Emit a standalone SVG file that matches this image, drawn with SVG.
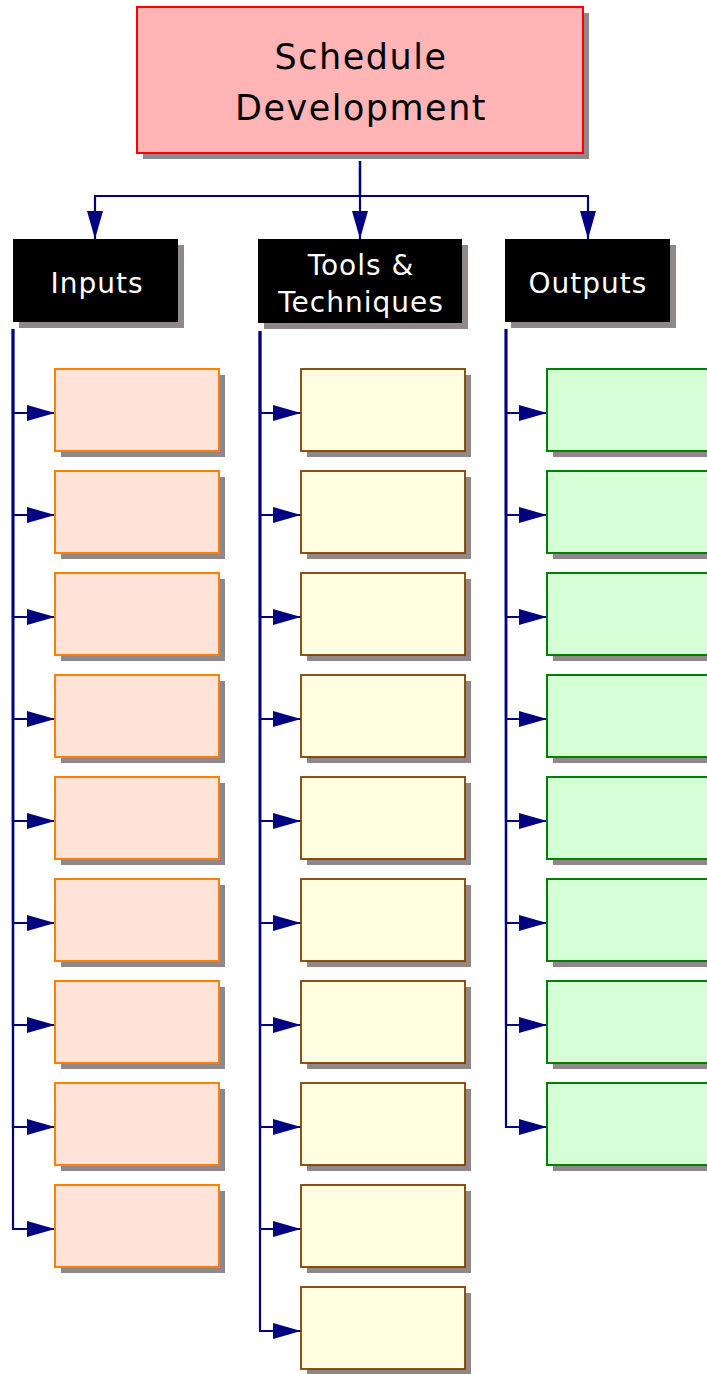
<svg xmlns="http://www.w3.org/2000/svg" width="707" height="1374" viewBox="0 0 707 1374">
<defs>
<marker id="ah" viewBox="0 0 28 16" refX="28" refY="8" markerWidth="28" markerHeight="16" markerUnits="userSpaceOnUse" orient="auto">
<path d="M0,0 L28,8 L0,16 z" fill="#000080"/>
</marker>
<style>
.sh{fill:#908888}
.conn{fill:none;stroke:#000080;stroke-width:2.2;marker-end:url(#ah)}
.hdr{fill:#000000}
.ht{fill:#ffffff;font-family:"DejaVu Sans",sans-serif;font-size:28px;letter-spacing:1px;text-anchor:middle}
.tt{fill:#000000;font-family:"DejaVu Sans",sans-serif;font-size:35px;letter-spacing:1.5px;text-anchor:middle}
.in{fill:#FFE3D8;stroke:#FF8000;stroke-width:2}
.tl{fill:#FFFEE0;stroke:#804000;stroke-width:1.8}
.out{fill:#D5FFD5;stroke:#008000;stroke-width:2}
</style>
</defs>
<rect width="707" height="1374" fill="#ffffff"/>

<g id="connectors">
<path class="conn" d="M360,161 V239"/>
<path class="conn" d="M360,161 V196 H95 V239"/>
<path class="conn" d="M360,161 V196 H588 V239"/>
<path class="conn" d="M13,329 V413 H55"/>
<path class="conn" d="M13,329 V515 H55"/>
<path class="conn" d="M13,329 V617 H55"/>
<path class="conn" d="M13,329 V719 H55"/>
<path class="conn" d="M13,329 V821 H55"/>
<path class="conn" d="M13,329 V923 H55"/>
<path class="conn" d="M13,329 V1025 H55"/>
<path class="conn" d="M13,329 V1127 H55"/>
<path class="conn" d="M13,329 V1229 H55"/>
<path class="conn" d="M260,331 V413 H301"/>
<path class="conn" d="M260,331 V515 H301"/>
<path class="conn" d="M260,331 V617 H301"/>
<path class="conn" d="M260,331 V719 H301"/>
<path class="conn" d="M260,331 V821 H301"/>
<path class="conn" d="M260,331 V923 H301"/>
<path class="conn" d="M260,331 V1025 H301"/>
<path class="conn" d="M260,331 V1127 H301"/>
<path class="conn" d="M260,331 V1229 H301"/>
<path class="conn" d="M260,331 V1331 H301"/>
<path class="conn" d="M506,329 V413 H547"/>
<path class="conn" d="M506,329 V515 H547"/>
<path class="conn" d="M506,329 V617 H547"/>
<path class="conn" d="M506,329 V719 H547"/>
<path class="conn" d="M506,329 V821 H547"/>
<path class="conn" d="M506,329 V923 H547"/>
<path class="conn" d="M506,329 V1025 H547"/>
<path class="conn" d="M506,329 V1127 H547"/>
</g>

<g id="title">
<rect class="sh" x="143" y="13" width="446" height="146"/>
<rect x="137" y="7" width="446" height="146" fill="#FFB5B5" stroke="#FF0000" stroke-width="2"/>
<text class="tt" x="361" y="69">Schedule</text>
<text class="tt" x="361" y="120">Development</text>
</g>

<g id="inputs">
<rect class="sh" x="19" y="245" width="165" height="83"/>
<rect class="hdr" x="13" y="239" width="165" height="83"/>
<text class="ht" x="97" y="293">Inputs</text>
</g>
<g id="tools">
<rect class="sh" x="264" y="245" width="204" height="84"/>
<rect class="hdr" x="258" y="239" width="204" height="84"/>
<text class="ht" x="361" y="275">Tools &amp;</text>
<text class="ht" x="361" y="312">Techniques</text>
</g>
<g id="outputs">
<rect class="sh" x="511" y="245" width="165" height="83"/>
<rect class="hdr" x="505" y="239" width="165" height="83"/>
<text class="ht" x="588" y="293">Outputs</text>
</g>

<g id="input-items">
<g id="in1"><rect class="sh" x="61" y="375" width="164" height="82"/><rect class="in" x="55" y="369" width="164" height="82"/></g>
<g id="in2"><rect class="sh" x="61" y="477" width="164" height="82"/><rect class="in" x="55" y="471" width="164" height="82"/></g>
<g id="in3"><rect class="sh" x="61" y="579" width="164" height="82"/><rect class="in" x="55" y="573" width="164" height="82"/></g>
<g id="in4"><rect class="sh" x="61" y="681" width="164" height="82"/><rect class="in" x="55" y="675" width="164" height="82"/></g>
<g id="in5"><rect class="sh" x="61" y="783" width="164" height="82"/><rect class="in" x="55" y="777" width="164" height="82"/></g>
<g id="in6"><rect class="sh" x="61" y="885" width="164" height="82"/><rect class="in" x="55" y="879" width="164" height="82"/></g>
<g id="in7"><rect class="sh" x="61" y="987" width="164" height="82"/><rect class="in" x="55" y="981" width="164" height="82"/></g>
<g id="in8"><rect class="sh" x="61" y="1089" width="164" height="82"/><rect class="in" x="55" y="1083" width="164" height="82"/></g>
<g id="in9"><rect class="sh" x="61" y="1191" width="164" height="82"/><rect class="in" x="55" y="1185" width="164" height="82"/></g>
</g>

<g id="tool-items">
<g id="tl1"><rect class="sh" x="307" y="375" width="164" height="82"/><rect class="tl" x="301" y="369" width="164" height="82"/></g>
<g id="tl2"><rect class="sh" x="307" y="477" width="164" height="82"/><rect class="tl" x="301" y="471" width="164" height="82"/></g>
<g id="tl3"><rect class="sh" x="307" y="579" width="164" height="82"/><rect class="tl" x="301" y="573" width="164" height="82"/></g>
<g id="tl4"><rect class="sh" x="307" y="681" width="164" height="82"/><rect class="tl" x="301" y="675" width="164" height="82"/></g>
<g id="tl5"><rect class="sh" x="307" y="783" width="164" height="82"/><rect class="tl" x="301" y="777" width="164" height="82"/></g>
<g id="tl6"><rect class="sh" x="307" y="885" width="164" height="82"/><rect class="tl" x="301" y="879" width="164" height="82"/></g>
<g id="tl7"><rect class="sh" x="307" y="987" width="164" height="82"/><rect class="tl" x="301" y="981" width="164" height="82"/></g>
<g id="tl8"><rect class="sh" x="307" y="1089" width="164" height="82"/><rect class="tl" x="301" y="1083" width="164" height="82"/></g>
<g id="tl9"><rect class="sh" x="307" y="1191" width="164" height="82"/><rect class="tl" x="301" y="1185" width="164" height="82"/></g>
<g id="tl10"><rect class="sh" x="307" y="1293" width="164" height="82"/><rect class="tl" x="301" y="1287" width="164" height="82"/></g>
</g>

<g id="output-items">
<g id="out1"><rect class="sh" x="553" y="375" width="164" height="82"/><rect class="out" x="547" y="369" width="164" height="82"/></g>
<g id="out2"><rect class="sh" x="553" y="477" width="164" height="82"/><rect class="out" x="547" y="471" width="164" height="82"/></g>
<g id="out3"><rect class="sh" x="553" y="579" width="164" height="82"/><rect class="out" x="547" y="573" width="164" height="82"/></g>
<g id="out4"><rect class="sh" x="553" y="681" width="164" height="82"/><rect class="out" x="547" y="675" width="164" height="82"/></g>
<g id="out5"><rect class="sh" x="553" y="783" width="164" height="82"/><rect class="out" x="547" y="777" width="164" height="82"/></g>
<g id="out6"><rect class="sh" x="553" y="885" width="164" height="82"/><rect class="out" x="547" y="879" width="164" height="82"/></g>
<g id="out7"><rect class="sh" x="553" y="987" width="164" height="82"/><rect class="out" x="547" y="981" width="164" height="82"/></g>
<g id="out8"><rect class="sh" x="553" y="1089" width="164" height="82"/><rect class="out" x="547" y="1083" width="164" height="82"/></g>
</g>
</svg>
